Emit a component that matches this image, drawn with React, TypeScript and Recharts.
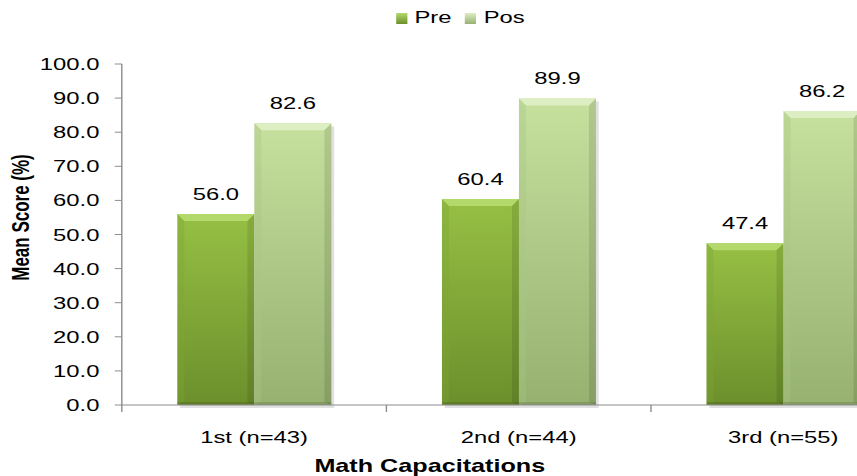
import { Bar, BarChart, LabelList, Legend, XAxis, YAxis } from "recharts";

const categories = ["1st (n=43)", "2nd (n=44)", "3rd (n=55)"];
const preScores = [56.0, 60.4, 47.4];
const posScores = [82.6, 89.9, 86.2];
const yTicks = [0, 10, 20, 30, 40, 50, 60, 70, 80, 90, 100];

const data = categories.map((name, i) => ({ name, pre: preScores[i], pos: posScores[i] }));

// the reference is stretched horizontally, so draw narrow and scale x
const STRETCH = 1.4;
const FONT = "'Liberation Sans', Arial, sans-serif";

const palette = {
  pre: { top: "#96c044", bottom: "#6c8f2c", bevel: "#b4d96b", side: "#7fa636" },
  pos: { top: "#c6e09e", bottom: "#96b170", bevel: "#ddeec3", side: "#a9c585" },
};

function bevelBar(kind: "pre" | "pos") {
  return (props: any) => {
    const { x, y, width, height } = props;
    if (!height || height <= 0) return <g />;
    const c = palette[kind];
    const bx = 5;
    const by = 7;
    return (
      <g>
        <rect x={x + 2} y={y + 3} width={width} height={height} fill="#000" opacity={0.12} />
        <rect x={x} y={y} width={width} height={height} fill={`url(#grad-${kind})`} />
        <polygon
          points={`${x},${y} ${x + width},${y} ${x + width - bx},${y + by} ${x + bx},${y + by}`}
          fill={c.bevel}
        />
        <polygon
          points={`${x},${y} ${x + bx},${y + by} ${x + bx},${y + height - 3} ${x},${y + height}`}
          fill={c.side}
          opacity={0.35}
        />
        <polygon
          points={`${x + width},${y} ${x + width - bx},${y + by} ${x + width - bx},${y + height - 3} ${x + width},${y + height}`}
          fill="#000"
          opacity={0.1}
        />
        <rect x={x} y={y + height - 3} width={width} height={3} fill="#000" opacity={0.12} />
      </g>
    );
  };
}

function CategoryTick(props: any) {
  const { x, y, payload, index, visibleTicksCount } = props;
  const half = payload?.offset ?? 0;
  return (
    <g>
      <line x1={x - half} y1={y} x2={x - half} y2={y + 7} stroke="#8c8c8c" />
      {index === visibleTicksCount - 1 && (
        <line x1={x + half} y1={y} x2={x + half} y2={y + 7} stroke="#8c8c8c" />
      )}
      <text x={x} y={y + 38} textAnchor="middle" fontSize={17} fontFamily={FONT} fill="#000">
        {payload.value}
      </text>
    </g>
  );
}

function LegendContent() {
  const items = [
    { key: "pre", label: "Pre" },
    { key: "pos", label: "Pos" },
  ] as const;
  return (
    <div style={{ display: "flex", alignItems: "center", fontFamily: FONT, fontSize: 17 }}>
      {items.map((it) => (
        <div key={it.key} style={{ display: "flex", alignItems: "center", marginRight: 10 }}>
          <span
            style={{
              display: "inline-block",
              width: 8,
              height: 11,
              marginRight: 5,
              background: `linear-gradient(${palette[it.key].bevel}, ${palette[it.key].bottom})`,
            }}
          />
          <span style={{ color: "#000" }}>{it.label}</span>
        </div>
      ))}
    </div>
  );
}

export default function App() {
  return (
    <div
      style={{
        position: "fixed",
        left: 0,
        top: 0,
        width: 857,
        height: 476,
        overflow: "hidden",
        background: "#fff",
      }}
    >
      <div style={{ width: 670, height: 476, transform: `scaleX(${STRETCH})`, transformOrigin: "0 0" }}>
        <BarChart
          width={670}
          height={476}
          data={data}
          margin={{ top: 34, right: 16, bottom: 0, left: 0 }}
          barCategoryGap="21%"
          barGap={0}
        >
          <defs>
            <linearGradient id="grad-pre" x1="0" y1="0" x2="0" y2="1">
              <stop offset="0%" stopColor={palette.pre.top} />
              <stop offset="100%" stopColor={palette.pre.bottom} />
            </linearGradient>
            <linearGradient id="grad-pos" x1="0" y1="0" x2="0" y2="1">
              <stop offset="0%" stopColor={palette.pos.top} />
              <stop offset="100%" stopColor={palette.pos.bottom} />
            </linearGradient>
          </defs>
          <Legend
            verticalAlign="top"
            content={<LegendContent />}
            wrapperStyle={{ top: 8, left: 283, width: 120, height: 30 }}
          />
          <XAxis
            dataKey="name"
            interval={0}
            height={71}
            tickLine={false}
            tickSize={0}
            tickMargin={0}
            tick={<CategoryTick />}
            axisLine={{ stroke: "#8c8c8c" }}
            label={{
              content: ({ viewBox }: any) => (
                <text
                  x={viewBox.x + 220}
                  y={viewBox.y + 67}
                  textAnchor="middle"
                  fontSize={18}
                  fontWeight="bold"
                  fontFamily={FONT}
                  fill="#000"
                >
                  Math Capacitations
                </text>
              ),
            }}
          />
          <YAxis
            width={87}
            domain={[0, 100]}
            ticks={yTicks}
            interval={0}
            tickFormatter={(v: number) => v.toFixed(1)}
            tick={{ fontSize: 17, fontFamily: FONT, fill: "#000" }}
            tickSize={5}
            tickMargin={11}
            tickLine={{ stroke: "#8c8c8c" }}
            axisLine={{ stroke: "#8c8c8c" }}
            label={{
              content: ({ viewBox }: any) => {
                const lx = 21;
                const ly = viewBox.y + viewBox.height / 2 - 17;
                return (
                  <text
                    x={lx}
                    y={ly}
                    transform={`rotate(-90, ${lx}, ${ly})`}
                    textAnchor="middle"
                    fontSize={17}
                    fontWeight="bold"
                    fontFamily={FONT}
                    fill="#000"
                  >
                    Mean Score (%)
                  </text>
                );
              },
            }}
          />
          <Bar dataKey="pre" name="Pre" fill={palette.pre.top} shape={bevelBar("pre")} isAnimationActive={false}>
            <LabelList
              dataKey="pre"
              position="top"
              offset={14}
              formatter={(v: any) => Number(v).toFixed(1)}
              style={{ fontSize: 17, fontFamily: FONT, fill: "#000" }}
            />
          </Bar>
          <Bar dataKey="pos" name="Pos" fill={palette.pos.top} shape={bevelBar("pos")} isAnimationActive={false}>
            <LabelList
              dataKey="pos"
              position="top"
              offset={14}
              formatter={(v: any) => Number(v).toFixed(1)}
              style={{ fontSize: 17, fontFamily: FONT, fill: "#000" }}
            />
          </Bar>
        </BarChart>
      </div>
    </div>
  );
}
